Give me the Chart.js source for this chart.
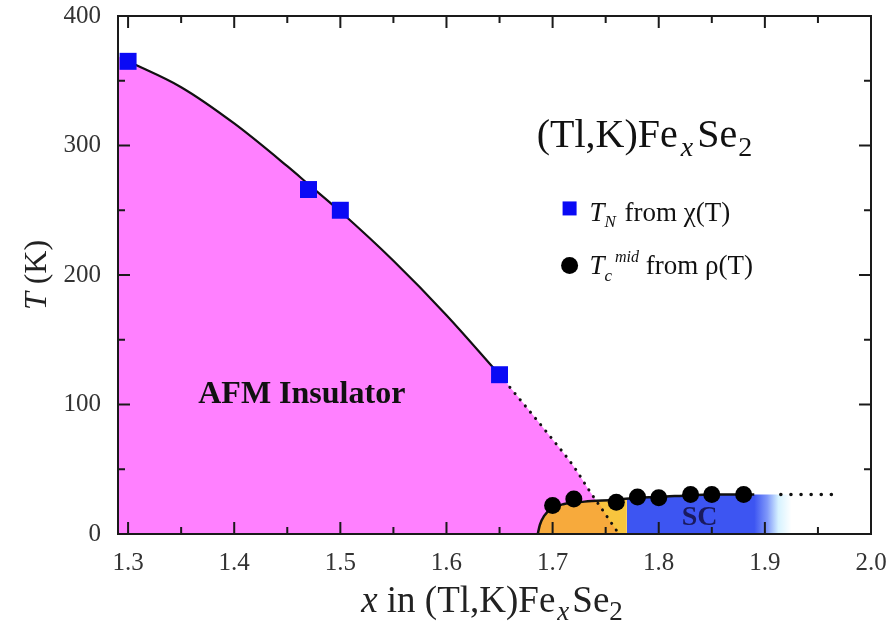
<!DOCTYPE html>
<html>
<head>
<meta charset="utf-8">
<script src="https://cdn.jsdelivr.net/npm/chart.js@4.4.1/dist/chart.umd.min.js"></script>
<style>
  html, body { margin: 0; padding: 0; background: #fff; }
</style>
</head>
<body>
<canvas id="chart" width="891" height="637"></canvas>
<script>
// axis ticks
const xTicks = [1.3, 1.4, 1.5, 1.6, 1.7, 1.8, 1.9, 2.0];
const xMinorTicks = [1.35, 1.45, 1.55, 1.65, 1.75, 1.85, 1.95];
const yTicks = [0, 100, 200, 300, 400];
const yMinorTicks = [50, 150, 250, 350];

// T_N from chi(T)
const tnX = [1.30, 1.47, 1.50, 1.65];
const tnT = [365, 266, 250, 123];

// T_c mid from rho(T)
const tcX = [1.70, 1.72, 1.76, 1.78, 1.80, 1.83, 1.85, 1.88];
const tcT = [22, 27, 24.5, 28.5, 28, 30.5, 30.5, 30.5];

// AFM boundary, solid guide line
const afmX = [1.30, 1.35, 1.40, 1.45, 1.47, 1.50, 1.55, 1.60, 1.65];
const afmT = [365, 345, 317, 284, 270, 249, 211, 169, 123];
// AFM boundary, dotted extrapolation
const afmDotX = [1.65, 1.70, 1.72, 1.735, 1.75, 1.76];
const afmDotT = [123, 73, 52, 33, 15, 3];

// pink AFM region edge
const pinkX = [1.2905, 1.30, 1.35, 1.40, 1.45, 1.47, 1.50, 1.55, 1.60, 1.65, 1.70, 1.72, 1.735, 1.75, 1.76, 1.763];
const pinkT = [369, 365, 345, 317, 284, 270, 249, 211, 169, 123, 73, 52, 33, 15, 3, 0];

// SC dome edge (solid line) and dotted continuation
const scX = [1.686, 1.688, 1.692, 1.70, 1.71, 1.73, 1.76, 1.78, 1.80, 1.83, 1.85, 1.89];
const scT = [0, 7, 14, 20, 23, 25, 26.5, 28, 28.5, 30, 30.5, 30.5];
const scDotX = [1.915, 1.965];
const scDotT = [30.5, 30.5];

// coloured regions under the dome
const orangeX = [1.686, 1.688, 1.692, 1.70, 1.71, 1.73, 1.741, 1.75, 1.76, 1.763];
const orangeT = [0, 7, 14, 20, 23, 25, 25.6, 15, 3, 0];
const yellowX = [1.686, 1.688, 1.692, 1.70, 1.71, 1.73, 1.76, 1.77];
const yellowT = [0, 7, 14, 20, 23, 25, 26.5, 27.2];
const blueX = [1.77, 1.78, 1.80, 1.83, 1.85, 1.89, 1.93];
const blueT = [27.2, 28, 28.5, 30, 30.5, 30.5, 30.5];

const FONT = '"Liberation Serif", "Times New Roman", serif';

function pts(xs, ys) {
    return xs.map((x, i) => ({ x: x, y: ys[i] }));
}

function richText(ctx, parts, x, y, align) {
    // parts: [text, size, style, dy, gapAfter]
    let w = 0;
    parts.forEach(p => {
        ctx.font = `${p[2] || ''} ${p[1]}px ${FONT}`;
        w += ctx.measureText(p[0]).width + (p[4] || 0);
    });
    let cx = align === 'center' ? x - w / 2 : x;
    ctx.textAlign = 'left';
    ctx.textBaseline = 'alphabetic';
    parts.forEach(p => {
        ctx.font = `${p[2] || ''} ${p[1]}px ${FONT}`;
        ctx.fillText(p[0], cx, y + (p[3] || 0));
        cx += ctx.measureText(p[0]).width + (p[4] || 0);
    });
}

function blueGradient(context) {
    const chart = context.chart;
    if (!chart.chartArea) return '#3d55f2';
    const x = chart.scales.x;
    const g = chart.ctx.createLinearGradient(x.getPixelForValue(1.89), 0, x.getPixelForValue(1.925), 0);
    g.addColorStop(0, '#3d55f2');
    g.addColorStop(0.35, '#7f98fa');
    g.addColorStop(0.65, '#d6f2ff');
    g.addColorStop(1, '#ffffff');
    return g;
}

// frame, inward ticks and annotations
const decorations = {
    id: 'decorations',
    afterDatasetsDraw(chart) {
        const { ctx, chartArea: a, scales: { x, y } } = chart;
        ctx.save();
        ctx.strokeStyle = '#1a1a1a';
        ctx.lineWidth = 2;
        ctx.beginPath();
        const xt = (v, len) => {
            const p = x.getPixelForValue(v);
            ctx.moveTo(p, a.bottom); ctx.lineTo(p, a.bottom - len);
            ctx.moveTo(p, a.top); ctx.lineTo(p, a.top + len);
        };
        const yt = (v, len) => {
            const p = y.getPixelForValue(v);
            ctx.moveTo(a.left, p); ctx.lineTo(a.left + len, p);
            ctx.moveTo(a.right, p); ctx.lineTo(a.right - len, p);
        };
        xTicks.forEach(v => xt(v, 12));
        xMinorTicks.forEach(v => xt(v, 7));
        yTicks.forEach(v => yt(v, 12));
        yMinorTicks.forEach(v => yt(v, 7));
        ctx.stroke();
        ctx.strokeRect(a.left, a.top, a.right - a.left, a.bottom - a.top);

        // labels inside the plot
        ctx.fillStyle = '#111';
        richText(ctx, [['AFM Insulator', 32, 'bold']], x.getPixelForValue(1.4637), y.getPixelForValue(100.8), 'center');
        ctx.fillStyle = '#1a1a5e';
        richText(ctx, [['SC', 28, 'bold']], x.getPixelForValue(1.8385), y.getPixelForValue(6.6), 'center');

        ctx.fillStyle = '#111';
        richText(ctx, [['(Tl,K)Fe', 40, '', 0, 3], ['x', 28, 'italic', 9, 4], ['Se', 40, '', 0, 1], ['2', 28, '', 9]],
            x.getPixelForValue(1.685), y.getPixelForValue(298.5), 'left');

        // legend
        const lx = x.getPixelForValue(1.716);
        ctx.fillStyle = '#0a0af5';
        ctx.fillRect(lx - 7, y.getPixelForValue(251.4) - 7, 14, 14);
        ctx.fillStyle = '#000';
        ctx.beginPath();
        ctx.arc(lx, y.getPixelForValue(207.3), 8.5, 0, Math.PI * 2);
        ctx.fill();
        ctx.fillStyle = '#111';
        const tx = x.getPixelForValue(1.7347);
        richText(ctx, [['T', 27, 'italic'], ['N', 17, 'italic', 6, 2], [' from \u03C7(T)', 27]], tx, y.getPixelForValue(242), 'left');
        richText(ctx, [['T', 27, 'italic'], ['c', 17, 'italic', 7, 3], ['mid', 16, 'italic', -12], [' from \u03C1(T)', 27]], tx, y.getPixelForValue(201), 'left');

        // axis titles
        ctx.fillStyle = '#222';
        richText(ctx, [['x', 37, 'italic'], [' in (Tl,K)Fe', 37, '', 0, 2], ['x', 27, 'italic', 8, 3], ['Se', 37], ['2', 27, '', 8]], 492, 612, 'center');
        ctx.translate(35, (a.top + a.bottom) / 2);
        ctx.rotate(-Math.PI / 2);
        richText(ctx, [['T', 32, 'italic'], [' (K)', 32]], 0, 11, 'center');
        ctx.restore();
    }
};

const curve = { type: 'line', pointRadius: 0, cubicInterpolationMode: 'monotone', fill: false };

new Chart(document.getElementById('chart'), {
    type: 'line',
    data: {
        datasets: [
            { ...curve, type: 'scatter', data: pts(tnX, tnT), pointStyle: 'rect', pointRadius: 12,
              backgroundColor: '#0a0af5', borderWidth: 0, order: 0 },
            { ...curve, type: 'scatter', data: pts(tcX, tcT), pointStyle: 'circle', pointRadius: 8.5,
              backgroundColor: '#000', borderWidth: 0, order: 0 },
            { ...curve, data: pts(afmX, afmT), borderColor: '#111', borderWidth: 2.2, order: 1 },
            { ...curve, data: pts(afmDotX, afmDotT), borderColor: '#111', borderWidth: 3,
              borderDash: [0.1, 8], borderCapStyle: 'round', order: 1 },
            { ...curve, data: pts(scX, scT), borderColor: '#111', borderWidth: 2.5, order: 1 },
            { ...curve, data: pts(scDotX, scDotT), borderColor: '#111', borderWidth: 3.5,
              borderDash: [0.1, 10], borderCapStyle: 'round', order: 1 },
            { ...curve, data: pts(orangeX, orangeT), borderWidth: 0, fill: 'origin',
              backgroundColor: '#f7aa3c', order: 2 },
            { ...curve, data: pts(yellowX, yellowT), borderWidth: 0, fill: 'origin',
              backgroundColor: '#f8c53e', order: 3 },
            { ...curve, data: pts(blueX, blueT), borderWidth: 0, fill: 'origin',
              backgroundColor: blueGradient, order: 3 },
            { ...curve, data: pts(pinkX, pinkT), borderWidth: 0, fill: 'origin',
              backgroundColor: '#ff80ff', order: 4 }
        ]
    },
    options: {
        responsive: false,
        animation: false,
        layout: { padding: { top: 16, right: 20, left: 0, bottom: 0 } },
        plugins: { legend: { display: false }, tooltip: { enabled: false } },
        scales: {
            x: {
                type: 'linear', min: 1.2905, max: 2.0,
                afterBuildTicks: (axis) => { axis.ticks = xTicks.map(v => ({ value: v })); },
                afterFit: (scale) => { scale.height = 103; scale.paddingLeft = 0; scale.paddingRight = 0; },
                grid: { display: false, drawTicks: false },
                border: { display: false },
                ticks: { padding: 14, color: '#333', font: { family: FONT, size: 25 },
                         maxRotation: 0, autoSkip: false, callback: v => Number(v).toFixed(1) }
            },
            y: {
                type: 'linear', min: 0, max: 400,
                afterBuildTicks: (axis) => { axis.ticks = yTicks.map(v => ({ value: v })); },
                afterFit: (scale) => { scale.width = 118; scale.paddingTop = 0; scale.paddingBottom = 0; },
                grid: { display: false, drawTicks: false },
                border: { display: false },
                ticks: { padding: 17, color: '#333', font: { family: FONT, size: 25 },
                         callback: v => String(v) }
            }
        }
    },
    plugins: [decorations]
});
</script>
</body>
</html>
